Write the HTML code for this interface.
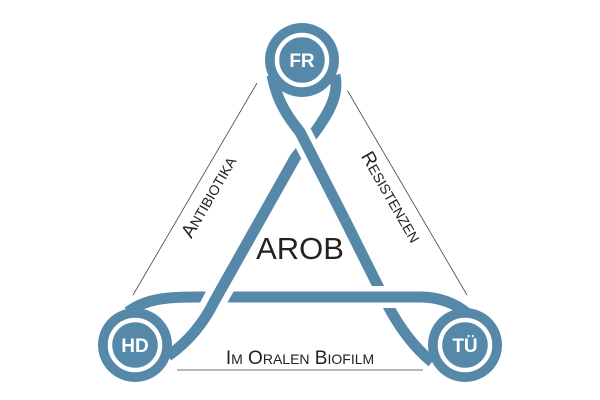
<!DOCTYPE html>
<html><head><meta charset="utf-8"><style>
html,body{margin:0;padding:0;background:#fff;}
svg{display:block;}
</style></head><body>
<svg width="600" height="400" viewBox="0 0 600 400" xmlns="http://www.w3.org/2000/svg" font-family="Liberation Sans, sans-serif">
<g stroke="#444" stroke-width="0.8">
<line x1="257" y1="83" x2="133" y2="295"/>
<line x1="343" y1="83" x2="467" y2="295"/>
<line x1="177" y1="370" x2="423" y2="370"/>
</g>
<g fill="none" stroke-linecap="butt">
<path d="M340,210 L385,300 Q405,340 432,362" stroke="#5689a9" stroke-width="11"/>
<path d="M128,312 C150,295 180,297 220,297 L420,297 C440,297 455,303 468,314" stroke="#fff" stroke-width="22"/>
<path d="M128,312 C150,295 180,297 220,297 L420,297 C440,297 455,303 468,314" stroke="#5689a9" stroke-width="11"/>
<path d="M335,75 C340,100 325,120 295,158 L215,300 Q198,335 168,356" stroke="#fff" stroke-width="24"/>
<path d="M335,75 C340,100 325,120 295,158 L215,300 Q198,335 168,356" stroke="#5689a9" stroke-width="11"/>
<path d="M272,75 C276,95 282,110 300,132 L345,220" stroke="#fff" stroke-width="22"/>
<path d="M272,75 C276,95 282,110 300,132 L345,220" stroke="#5689a9" stroke-width="11"/>
</g>
<g>
<circle cx="302" cy="60" r="37" fill="#5689a9"/>
<circle cx="302" cy="60" r="25" fill="none" stroke="#fff" stroke-width="4.5"/>
<circle cx="135" cy="345" r="37" fill="#5689a9"/>
<circle cx="135" cy="345" r="25" fill="none" stroke="#fff" stroke-width="4.5"/>
<circle cx="465" cy="345" r="37" fill="#5689a9"/>
<circle cx="465" cy="345" r="25" fill="none" stroke="#fff" stroke-width="4.5"/>
</g>
<g fill="#fff" font-weight="bold" font-size="19" text-anchor="middle">
<text x="302" y="67">FR</text>
<text x="135" y="352">HD</text>
<text x="465" y="352">TÜ</text>
</g>
<g fill="#222" text-anchor="middle">
<text x="300" y="259" font-size="31">AROB</text>
<text x="300" y="364" font-size="19">I<tspan font-size="14">M</tspan> O<tspan font-size="14">RALEN</tspan> B<tspan font-size="14">IOFILM</tspan></text>
<text transform="translate(214,200) rotate(-60)" font-size="19">A<tspan font-size="14">NTIBIOTIKA</tspan></text>
<text transform="translate(386,200) rotate(60)" font-size="19">R<tspan font-size="14">ESISTENZEN</tspan></text>
</g>
</svg>
</body></html>
